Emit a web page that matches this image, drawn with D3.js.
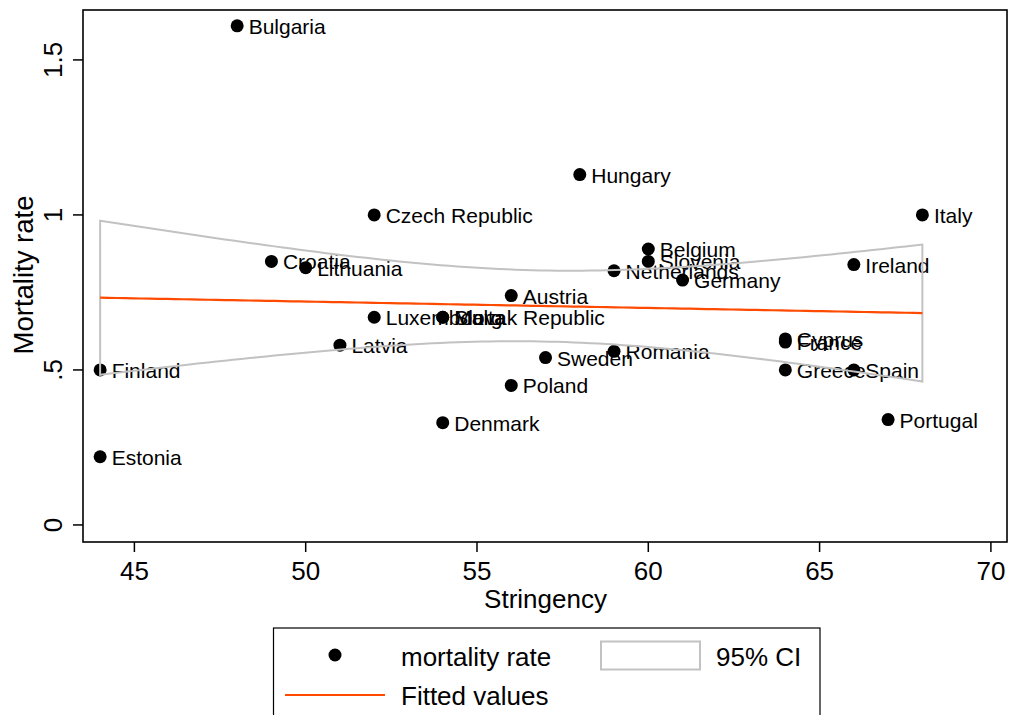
<!DOCTYPE html>
<html>
<head>
<meta charset="utf-8">
<script src="https://cdn.jsdelivr.net/npm/d3@7/dist/d3.min.js"></script>
<style>
  html, body { margin: 0; padding: 0; background: #fff; }
  svg { display: block; font-family: "Liberation Sans", Arial, Helvetica, sans-serif; }
</style>
</head>
<body>
<svg id="chart" width="1012" height="715"></svg>
<script>
// ---- data ----
const countries = ["Bulgaria","Hungary","Czech Republic","Italy","Belgium","Slovenia","Croatia","Lithuania",
  "Netherlands","Ireland","Germany","Austria","Luxembourg","Malta","Slovak Republic","Cyprus","France",
  "Latvia","Romania","Sweden","Finland","Greece","Spain","Poland","Denmark","Portugal","Estonia"];
const stringency = [48,58,52,68,60,60,49,50,59,66,61,56,52,54,54,64,64,51,59,57,44,64,66,56,54,67,44];
const mortality = [1.61,1.13,1.00,1.00,0.89,0.85,0.85,0.83,0.82,0.84,0.79,0.74,0.67,0.67,0.67,0.60,0.59,
  0.58,0.56,0.54,0.50,0.50,0.50,0.45,0.33,0.34,0.22];
const xTicks = [45,50,55,60,65,70];
const yTicks = [0,0.5,1,1.5];
const yTickLabels = ["0",".5","1","1.5"];
const legendLabels = ["mortality rate","95% CI","Fitted values"];
const tCrit = 2.0595; // t(0.975, df=25)

// ---- layout ----
const svg = d3.select("#chart");
const L = 83, R = 1007, T = 10, B = 542;
const x = d3.scaleLinear().domain([43.5, 70.47]).range([L, R]);
const y = d3.scaleLinear().domain([-0.055, 1.661]).range([B, T]);

// ---- regression (lfitci) ----
const n = stringency.length;
const mx = d3.mean(stringency), my = d3.mean(mortality);
let sxx = 0, sxy = 0;
for (let i = 0; i < n; i++) { sxx += (stringency[i]-mx)**2; sxy += (stringency[i]-mx)*(mortality[i]-my); }
const b1 = sxy / sxx, b0 = my - b1 * mx;
let sse = 0;
for (let i = 0; i < n; i++) { const r = mortality[i] - (b0 + b1*stringency[i]); sse += r*r; }
const s = Math.sqrt(sse / (n - 2));
const [xmin, xmax] = d3.extent(stringency);
const grid = d3.range(100).map(i => xmin + (xmax - xmin) * i / 99);
const fit = grid.map(g => {
  const yh = b0 + b1*g;
  const se = s * Math.sqrt(1/n + (g-mx)**2 / sxx);
  return {x: g, yh, lo: yh - tCrit*se, hi: yh + tCrit*se};
});

// ---- frame ----
svg.append("rect").attr("x", L).attr("y", T).attr("width", R-L).attr("height", B-T)
  .attr("fill", "#fff").attr("stroke", "#000").attr("stroke-width", 1.6);

// ---- axes ----
const yAxis = svg.append("g");
yTicks.forEach((v, i) => {
  yAxis.append("line").attr("x1", L-10).attr("x2", L).attr("y1", y(v)).attr("y2", y(v))
    .attr("stroke", "#000").attr("stroke-width", 1.5);
  yAxis.append("text").attr("transform", `translate(62,${y(v)}) rotate(-90)`)
    .attr("text-anchor", "middle").attr("font-size", 26).text(yTickLabels[i]);
});
const xAxis = svg.append("g");
xTicks.forEach(v => {
  xAxis.append("line").attr("x1", x(v)).attr("x2", x(v)).attr("y1", B).attr("y2", B+10)
    .attr("stroke", "#000").attr("stroke-width", 1.5);
  xAxis.append("text").attr("x", x(v)).attr("y", 580).attr("text-anchor", "middle")
    .attr("font-size", 26).text(v);
});
svg.append("text").attr("x", (L+R)/2 + 0.5).attr("y", 608).attr("text-anchor", "middle")
  .attr("font-size", 26).text("Stringency");
svg.append("text").attr("transform", `translate(33,${(T+B)/2 - 1}) rotate(-90)`)
  .attr("text-anchor", "middle").attr("font-size", 27.5).text("Mortality rate");

// ---- scatter with labels ----
const pts = svg.append("g");
countries.forEach((c, i) => {
  const cx = x(stringency[i]), cy = y(mortality[i]);
  pts.append("circle").attr("cx", cx).attr("cy", cy).attr("r", 6.5).attr("fill", "#000");
  pts.append("text").attr("x", cx + 11.5).attr("y", cy + 8).attr("font-size", 21)
    .attr("fill", "#000").text(c);
});

// ---- CI band outline ----
const ciPts = fit.map(d => [x(d.x), y(d.hi)]).concat(fit.slice().reverse().map(d => [x(d.x), y(d.lo)]));
svg.append("path").attr("d", d3.line()(ciPts) + "Z")
  .attr("fill", "none").attr("stroke", "#c2c2c2").attr("stroke-width", 2);

// ---- fitted line ----
svg.append("path").attr("d", d3.line().x(d => x(d.x)).y(d => y(d.yh))(fit))
  .attr("fill", "none").attr("stroke", "#ff4a00").attr("stroke-width", 2.2);

// ---- legend ----
const lg = svg.append("g");
lg.append("rect").attr("x", 273.5).attr("y", 628).attr("width", 546.5).attr("height", 120)
  .attr("fill", "#fff").attr("stroke", "#000").attr("stroke-width", 1.2);
lg.append("circle").attr("cx", 335).attr("cy", 655).attr("r", 6.5).attr("fill", "#000");
lg.append("text").attr("x", 401).attr("y", 666).attr("font-size", 26).text(legendLabels[0]);
lg.append("rect").attr("x", 601).attr("y", 641.5).attr("width", 99).attr("height", 28)
  .attr("fill", "#fff").attr("stroke", "#c2c2c2").attr("stroke-width", 2);
lg.append("text").attr("x", 716).attr("y", 666).attr("font-size", 26).text(legendLabels[1]);
lg.append("line").attr("x1", 285).attr("x2", 385).attr("y1", 695).attr("y2", 695)
  .attr("stroke", "#ff4a00").attr("stroke-width", 2.2);
lg.append("text").attr("x", 401).attr("y", 705).attr("font-size", 26).text(legendLabels[2]);
</script>
</body>
</html>
